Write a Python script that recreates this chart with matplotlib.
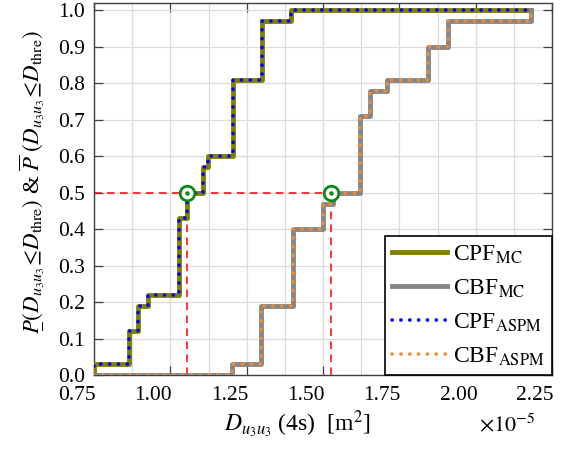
import matplotlib
matplotlib.use("Agg")
import matplotlib.pyplot as plt
import matplotlib.transforms as mtransforms
import numpy as np

plt.rcParams['font.family'] = 'serif'
plt.rcParams['font.serif'] = ['Liberation Serif', 'DejaVu Serif']
plt.rcParams['mathtext.fontset'] = 'stix'

# step data (x in units of 1e-5 m^2): jump positions and level after each jump
cpf_mc_x = [0.75, 0.865, 0.895, 0.928, 1.029, 1.053, 1.108, 1.124, 1.206, 1.299, 1.395]
cpf_mc_y = [0.03, 0.12, 0.19, 0.22, 0.43, 0.50, 0.57, 0.60, 0.81, 0.97, 1.00]
cbf_mc_x = [1.201, 1.297, 1.403, 1.499, 1.534, 1.621, 1.654, 1.711, 1.845, 1.908, 2.181]
cbf_mc_y = [0.03, 0.19, 0.40, 0.47, 0.50, 0.71, 0.78, 0.81, 0.90, 0.97, 1.00]
cpf_aspm_x = [0.75, 0.865, 0.895, 0.928, 1.029, 1.053, 1.108, 1.124, 1.206, 1.299, 1.395]
cpf_aspm_y = [0.03, 0.12, 0.19, 0.22, 0.43, 0.50, 0.57, 0.60, 0.81, 0.97, 1.00]
cbf_aspm_x = [1.201, 1.297, 1.403, 1.499, 1.534, 1.621, 1.654, 1.711, 1.845, 1.908, 2.181]
cbf_aspm_y = [0.03, 0.19, 0.40, 0.47, 0.50, 0.71, 0.78, 0.81, 0.90, 0.97, 1.00]
x_start = 0.75
x_end = 2.181

# threshold crossings at P = 0.5
p_level = 0.5
cross_x = [1.053, 1.525]


def step_path(jumps, levels, x0, x1):
    xs, ys = [x0], [0.0]
    for x, y in zip(jumps, levels):
        xs += [x, x]
        ys += [ys[-1], y]
    xs.append(x1)
    ys.append(ys[-1])
    return xs, ys


fig = plt.figure(figsize=(5.72, 4.54), dpi=100)
ax = fig.add_axes([94 / 572, 1 - 375 / 454, 458 / 572, 372 / 454])

# red guide lines
ax.plot([x_start, cross_x[1]], [p_level, p_level], color='#ff0000', lw=1.1,
        dashes=(5, 3.5), zorder=2)
for cx in cross_x:
    ax.plot([cx, cx], [0, p_level], color='#ff0000', lw=1.1, dashes=(5, 3.5), zorder=2)

xs, ys = step_path(cpf_mc_x, cpf_mc_y, x_start, x_end)
ax.plot(xs, ys, color='#808000', lw=3.5, label=r'CPF$_{\mathrm{MC}}$', zorder=3)
xs, ys = step_path(cbf_mc_x, cbf_mc_y, x_start, x_end)
ax.plot(xs, ys, color='#868686', lw=3.5, label=r'CBF$_{\mathrm{MC}}$', zorder=3)
xs, ys = step_path(cpf_aspm_x, cpf_aspm_y, x_start, x_end)
ax.plot(xs, ys, color='#0000ff', lw=2.6, dashes=(0.05, 2.4), dash_capstyle='round',
        label=r'CPF$_{\mathrm{ASPM}}$', zorder=4)
xs, ys = step_path(cbf_aspm_x, cbf_aspm_y, x_start, x_end)
ax.plot(xs, ys, color='#f58a2e', lw=2.6, dashes=(0.05, 2.4), dash_capstyle='round',
        label=r'CBF$_{\mathrm{ASPM}}$', zorder=4)

# green circles
ax.plot(cross_x, [p_level] * 2, 'o', ms=10.5, mfc='white', mec='#0a8a14', mew=2.0, zorder=5)
ax.plot(cross_x, [p_level] * 2, 'o', ms=2.2, color='#0a8a14', zorder=6)

ax.set_xlim(0.75, 2.25)
ax.set_ylim(0, 1.02)
ax.set_xticks(np.arange(0.75, 2.26, 0.25))
ax.set_xticks(np.arange(0.875, 2.25, 0.25), minor=True)
ax.set_yticks(np.arange(0, 1.01, 0.1))
ax.set_xticklabels(['0.75', '1.00', '1.25', '1.50', '1.75', '2.00', '2.25'])
ax.set_yticklabels(['%.1f' % v for v in np.arange(0, 1.01, 0.1)])
ax.grid(True, which='major', color='#dcdcdc', lw=0.9, zorder=0)
ax.grid(True, which='minor', axis='x', color='#dcdcdc', lw=0.9, zorder=0)
ax.set_axisbelow(True)
ax.tick_params(which='major', direction='in', length=6.5, width=0.9, color='#404040',
               top=True, right=True, labelsize=15.5)
ax.tick_params(axis='x', pad=8)
ax.tick_params(axis='y', pad=6.5)
ax.tick_params(which='minor', length=0)
for s in ax.spines.values():
    s.set_color('#404040')
    s.set_linewidth(1.0)

# x tick labels sit a little left of their ticks in the original
shift = mtransforms.ScaledTranslation(-17 / 100, 0, fig.dpi_scale_trans)
for lab in ax.get_xticklabels():
    lab.set_transform(lab.get_transform() + shift)

ax.text(0.443, -0.1524, r'$D_{u_3u_3}$ (4s)  [m$^2$]', transform=ax.transAxes,
        ha='center', va='baseline', fontsize=17)
ax.text(0.963, -0.1524, r'$\times10^{-5}$', transform=ax.transAxes,
        ha='right', va='baseline', fontsize=16)
ax.set_ylabel(r'$\underset{-}{P}(D_{u_3u_3}\!\leq\! D_{\mathrm{thre}})$ & '
              r'$\overline{P}\;(D_{u_3u_3}\!\leq\! D_{\mathrm{thre}})$', fontsize=16.5)
ax.yaxis.set_label_coords(-0.112, 0.519)

leg = ax.legend(loc='lower right', borderaxespad=0, fontsize=17, fancybox=False,
                framealpha=1, edgecolor='black', handlelength=2.35, handletextpad=0.25,
                labelspacing=0.5, borderpad=0.3)
leg.get_frame().set_linewidth(1.2)
leg.set_zorder(10)

fig.savefig('out.png', dpi=100)
